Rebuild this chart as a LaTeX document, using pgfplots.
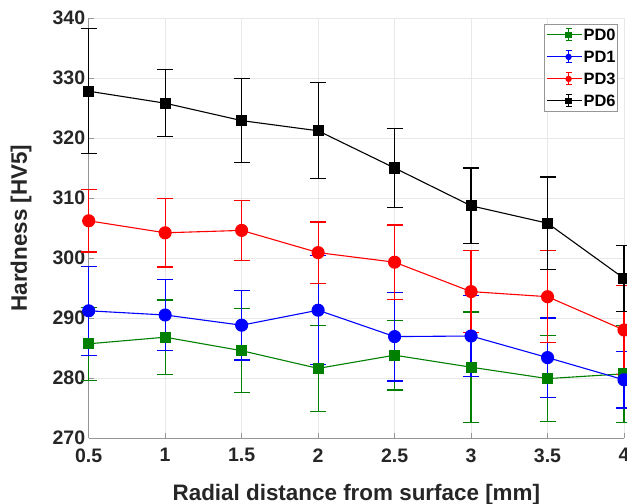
\documentclass[border=0pt]{standalone}
\usepackage{pgfplots}
\pgfplotsset{compat=1.18}
\usepackage{fontspec}
\setmainfont{Liberation Sans}
\definecolor{mgreen}{RGB}{0,128,0}
\definecolor{gridc}{RGB}{232,232,232}
\definecolor{axc}{RGB}{150,150,150}
\begin{document}
\begin{tikzpicture}
\useasboundingbox (-88.7bp,-66bp) rectangle (538.3bp,438bp);
\clip (-88.7bp,-66bp) rectangle (538.3bp,438bp);
\begin{axis}[
  scale only axis, width=535.3bp, height=420bp,
  xmin=0.5, xmax=4, ymin=270, ymax=340,
  xtick={0.5,1,1.5,2,2.5,3,3.5,4},
  xticklabels={0.5,1,1.5,2,2.5,3,3.5,4},
  ytick={270,280,290,300,310,320,330,340},
  axis x line*=bottom, axis y line*=left,
  axis line style={axc, line width=0.8bp},
  tick style={axc, line width=0.8bp},
  tick align=inside, major tick length=5bp,
  grid=major, major grid style={gridc, line width=0.8bp},
  clip=false,
  /pgf/number format/assume math mode=true,
  tick label style={font=\fontsize{19.6}{22}\selectfont\bfseries, text=black!85},
  xticklabel style={yshift=-7bp},
  xlabel={Radial distance from surface [mm]},
  ylabel={Hardness [HV5]},
  every axis x label/.style={at={(axis description cs:0.5,0)}, anchor=base, yshift=-62bp, font=\fontsize{22.5}{24}\selectfont\bfseries, text=black!85},
  every axis y label/.style={at={(axis description cs:0,0.5)}, xshift=-67.7bp, rotate=90, anchor=center, font=\fontsize{22.5}{24}\selectfont\bfseries, text=black!85},
  legend cell align=left,
  legend style={at={(axis description cs:1,1)}, anchor=north east, xshift=-6bp, yshift=-6bp,
    draw=axc, fill=white, line width=0.8bp, inner xsep=2bp, inner ysep=4bp,
    font=\fontsize{16.5}{18}\selectfont\bfseries,
    nodes={inner sep=0pt, text height=12bp, text depth=0pt},
    row sep=9bp, column sep=1bp},
  legend image code/.code={%
    \path (-8bp,0bp) -- (27bp,0bp);
    \draw[#1, mark=none, line width=1bp] (0bp,0bp) -- (27bp,0bp);
    \draw[#1, mark=none, line width=1bp] (13.5bp,-6bp) -- (13.5bp,6bp) (10.5bp,-6bp) -- (16.5bp,-6bp) (10.5bp,6bp) -- (16.5bp,6bp);
    \draw[#1, mark size=2.6bp] plot coordinates {(13.5bp,0bp)};
  },
  error bars/y dir=both, error bars/y explicit,
  error bars/error mark=|,
  error bars/error mark options={mark size=8bp, line width=1.1bp},
  error bars/error bar style={line width=1.2bp},
]
\addplot[mgreen, line width=1.1bp, mark=square*, mark size=5bp, mark options={solid}]
 coordinates {(0.5,285.7) +- (0,6.05) (1,286.8) +- (0,6.2) (1.5,284.55) +- (0,7.0) (2,281.6) +- (0,7.2)
  (2.5,283.8) +- (0,5.8) (3,281.8) +- (0,9.2) (3.5,279.9) +- (0,7.2) (4,280.7) +- (0,8.1)};
\addlegendentry{PD0}
\addplot[blue, line width=1.1bp, mark=*, mark size=6bp, mark options={solid}]
 coordinates {(0.5,291.2) +- (0,7.45) (1,290.5) +- (0,5.9) (1.5,288.8) +- (0,5.8) (2,291.3) +- (0,9.1)
  (2.5,286.9) +- (0,7.4) (3,287.0) +- (0,6.8) (3.5,283.4) +- (0,6.6) (4,279.7) +- (0,4.7)};
\addlegendentry{PD1}
\addplot[red, line width=1.1bp, mark=*, mark size=6bp, mark options={solid}]
 coordinates {(0.5,306.2) +- (0,5.2) (1,304.2) +- (0,5.7) (1.5,304.6) +- (0,5.0) (2,300.9) +- (0,5.1)
  (2.5,299.3) +- (0,6.2) (3,294.4) +- (0,6.8) (3.5,293.55) +- (0,7.7) (4,288.0) +- (0,7.4)};
\addlegendentry{PD3}
\addplot[black, line width=1.1bp, mark=square*, mark size=5bp, mark options={solid}]
 coordinates {(0.5,327.8) +- (0,10.4) (1,325.8) +- (0,5.6) (1.5,322.9) +- (0,7.0) (2,321.2) +- (0,8.0)
  (2.5,315.0) +- (0,6.6) (3,308.7) +- (0,6.3) (3.5,305.8) +- (0,7.7) (4,296.6) +- (0,5.5)};
\addlegendentry{PD6}
\end{axis}
\end{tikzpicture}
\end{document}
